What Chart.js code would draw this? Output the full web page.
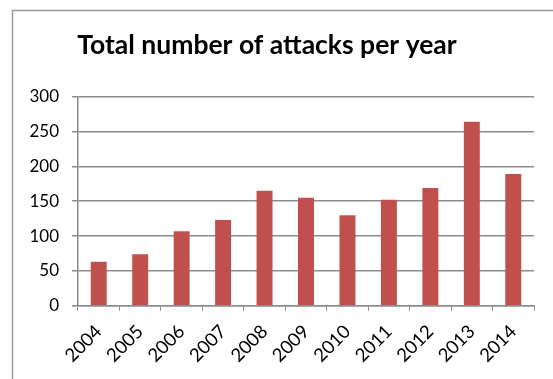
<!DOCTYPE html>
<html>
<head>
<meta charset="utf-8">
<script src="https://cdn.jsdelivr.net/npm/chart.js@4/dist/chart.umd.min.js"></script>
<style>
  html, body { margin: 0; padding: 0; background: #fff; }
  #wrap { width: 553px; height: 379px; }
</style>
</head>
<body>
<div id="wrap"><canvas id="attackChart" width="553" height="379"></canvas></div>
<script>
// Data
const years = ["2004", "2005", "2006", "2007", "2008", "2009", "2010", "2011", "2012", "2013", "2014"];
const attacks = [63, 74, 107, 123, 165, 155, 130, 152, 169, 264, 189];
const yTicks = [0, 50, 100, 150, 200, 250, 300];

const gridGray = "#8c8c8c";

// Grey frame round the chart, like the Excel chart area border (runs off right and bottom)
const frame = {
  id: "frame",
  beforeDraw(chart) {
    const ctx = chart.ctx;
    ctx.save();
    ctx.fillStyle = "#fff";
    ctx.fillRect(0, 0, chart.width, chart.height);
    ctx.strokeStyle = "#9a9a9a";
    ctx.lineWidth = 1.5;
    ctx.strokeRect(12.5, 10.5, 600, 400);
    ctx.restore();
  },
};

const ctx = document.getElementById("attackChart").getContext("2d");
new Chart(ctx, {
  type: "bar",
  data: {
    labels: years,
    datasets: [
      {
        label: "Attacks",
        data: attacks,
        backgroundColor: "#c0504d",
        borderWidth: 0,
        barPercentage: 0.77,
        categoryPercentage: 0.5,
      },
    ],
  },
  options: {
    responsive: false,
    animation: false,
    layout: { padding: { left: 0, right: 19, top: 0, bottom: 0 } },
    plugins: {
      legend: { display: false },
      tooltip: { enabled: false },
      title: {
        display: true,
        text: "Total number of attacks per year",
        color: "#000",
        font: { family: "Lato", size: 26.5, weight: "bold", lineHeight: 1.2 },
        padding: { top: 30, bottom: 34.9 },
      },
    },
    scales: {
      x: {
        grid: {
          display: true,
          drawOnChartArea: false,
          drawTicks: true,
          tickLength: 5,
          color: gridGray,
          offset: true,
        },
        border: { display: true, color: gridGray, width: 1.5 },
        ticks: {
          color: "#000",
          font: { family: "Lato", size: 18.5 },
          minRotation: 45,
          maxRotation: 45,
          padding: 10,
        },
        afterFit(scale) {
          scale.height = 73.3;
        },
      },
      y: {
        min: 0,
        max: 300,
        afterBuildTicks(scale) {
          scale.ticks = yTicks.map((v) => ({ value: v }));
        },
        grid: {
          color: gridGray,
          lineWidth: 1.5,
          tickLength: 6,
        },
        border: { display: true, color: gridGray, width: 1.5 },
        ticks: {
          color: "#000",
          font: { family: "Lato", size: 17 },
          padding: 13,
        },
        afterFit(scale) {
          scale.width = 78;
        },
      },
    },
  },
  plugins: [frame],
});
</script>
</body>
</html>
